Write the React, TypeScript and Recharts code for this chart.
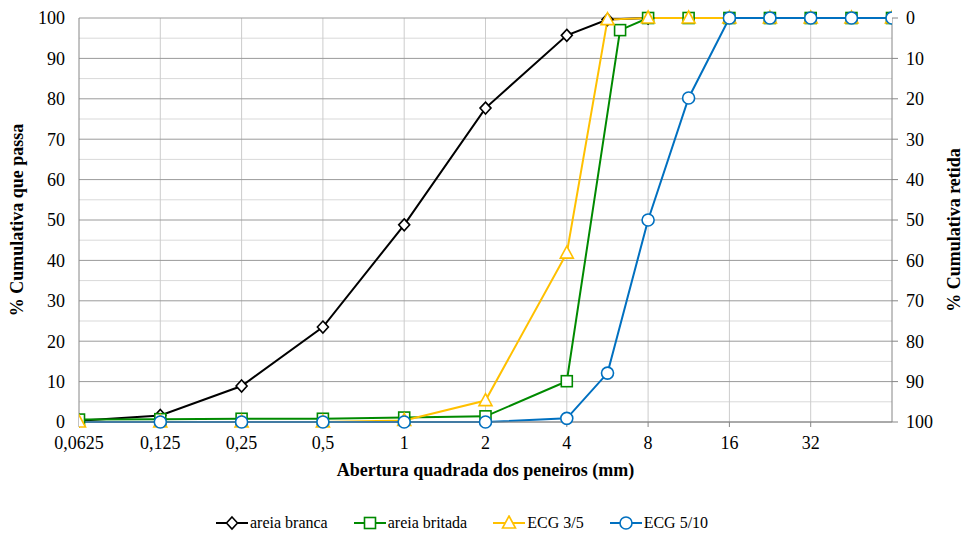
import React from 'react';
import { ComposedChart, Line, XAxis, YAxis, CartesianGrid, Legend } from 'recharts';

// Sieve openings (mm) and cumulative % passing
const xTicks = [0.0625, 0.125, 0.25, 0.5, 1, 2, 4, 8, 16, 32];
const xGridValues = [0.125, 0.25, 0.5, 1, 2, 4, 8, 16, 32];
const yTicks = [0, 10, 20, 30, 40, 50, 60, 70, 80, 90, 100];
const yMinorTicks = [5, 15, 25, 35, 45, 55, 65, 75, 85, 95];

const areiaBrancaX = [0.0625, 0.125, 0.25, 0.5, 1, 2, 4, 5.66, 8];
const areiaBrancaY = [0.3, 1.6, 8.9, 23.5, 48.8, 77.7, 95.7, 99.6, 100];

const areiaBritadaX = [0.0625, 0.125, 0.25, 0.5, 1, 2, 4, 6.3, 8, 11.3, 16, 22.6, 32, 45.3, 64];
const areiaBritadaY = [0.6, 0.7, 0.8, 0.8, 1.1, 1.4, 10.1, 97, 100, 100, 100, 100, 100, 100, 100];

const ecg35X = [0.0625, 0.125, 0.25, 0.5, 1, 2, 4, 5.66, 8, 11.3, 16, 22.6, 32, 45.3, 64];
const ecg35Y = [0, 0, 0, 0, 0.4, 5.3, 41.8, 99.6, 100, 100, 100, 100, 100, 100, 100];

const ecg510X = [0.0625, 0.125, 0.25, 0.5, 1, 2, 4, 5.66, 8, 11.3, 16, 22.6, 32, 45.3, 64];
const ecg510Y = [0, 0, 0, 0, 0, 0, 0.9, 12.1, 50, 80.2, 100, 100, 100, 100, 100];

const seriesNames = ['areia branca', 'areia britada', 'ECG 3/5', 'ECG 5/10'];
const seriesColors = ['#000000', '#008a00', '#FFC000', '#0070C0'];

const toPoints = (xs: number[], ys: number[]) => xs.map((x, i) => ({ x, y: ys[i] }));
// cumulative % retained (right axis) = 100 - % passing
const toRetained = (xs: number[], ys: number[]) => xs.map((x, i) => ({ x, r: 100 - ys[i] }));

const FONT = '"Liberation Serif", "Times New Roman", serif';

type Shape = 'diamond' | 'square' | 'triangle' | 'circle';
const shapes: Shape[] = ['diamond', 'square', 'triangle', 'circle'];

const Marker = ({ shape, cx, cy, color }: { shape: Shape; cx: number; cy: number; color: string }) => {
  const sw = 1.6;
  if (shape === 'diamond') {
    return (
      <polygon
        points={`${cx},${cy - 6} ${cx + 5.5},${cy} ${cx},${cy + 6} ${cx - 5.5},${cy}`}
        fill="#fff"
        stroke={color}
        strokeWidth={sw}
      />
    );
  }
  if (shape === 'square') {
    return <rect x={cx - 5.5} y={cy - 5.5} width={11} height={11} fill="#fff" stroke={color} strokeWidth={sw} />;
  }
  if (shape === 'triangle') {
    return (
      <polygon
        points={`${cx},${cy - 7} ${cx + 6.5},${cy + 5} ${cx - 6.5},${cy + 5}`}
        fill="#fff"
        stroke={color}
        strokeWidth={sw}
      />
    );
  }
  return <circle cx={cx} cy={cy} r={6} fill="#fff" stroke={color} strokeWidth={sw} />;
};

const makeDot = (shape: Shape, color: string, skipFirst = false) => (props: any) => {
  const { cx, cy, index } = props;
  if (cx == null || cy == null || (skipFirst && index === 0)) return <g key={`d-${shape}-${index}`} />;
  return (
    <g key={`d-${shape}-${index}`}>
      <Marker shape={shape} cx={cx} cy={cy} color={color} />
    </g>
  );
};

const LegendContent = () => (
  <div
    style={{
      display: 'flex',
      alignItems: 'center',
      height: 20,
      paddingLeft: 216,
      fontFamily: FONT,
      fontSize: 16,
      color: '#000',
      whiteSpace: 'nowrap',
    }}
  >
    {seriesNames.map((name, i) => (
      <div key={name} style={{ display: 'flex', alignItems: 'center', marginRight: 26 }}>
        <svg width={32} height={16} style={{ display: 'block' }}>
          <line x1={0} y1={8} x2={32} y2={8} stroke={seriesColors[i]} strokeWidth={2} />
          <Marker shape={shapes[i]} cx={16} cy={8} color={seriesColors[i]} />
        </svg>
        <span style={{ marginLeft: 2, lineHeight: '20px' }}>{name}</span>
      </div>
    ))}
  </div>
);

const fmt = (v: number) => String(v).replace('.', ',');

export default function App() {
  const data = [
    toPoints(areiaBrancaX, areiaBrancaY),
    toPoints(areiaBritadaX, areiaBritadaY),
    toPoints(ecg35X, ecg35Y),
    toPoints(ecg510X, ecg510Y),
  ];
  const retained = toRetained(ecg510X, ecg510Y);
  const tickStyle = { fontFamily: FONT, fontSize: 18, fill: '#000' };
  const axisColor = '#868686';
  return (
    <div style={{ position: 'absolute', left: 0, top: 0, width: 963, height: 533, fontFamily: FONT }}>
      <ComposedChart width={963} height={533} margin={{ top: 18, right: 0, bottom: 0, left: 0 }}>
        <CartesianGrid horizontalValues={yMinorTicks} vertical={false} stroke="#d9d9d9" strokeWidth={1} />
        <CartesianGrid verticalValues={xGridValues} horizontal={false} stroke="#cccccc" strokeWidth={1} />
        <CartesianGrid horizontalValues={yTicks} vertical={false} stroke="#9a9a9a" strokeWidth={1} />
        <XAxis
          dataKey="x"
          type="number"
          scale="log"
          domain={[0.0625, 64]}
          allowDataOverflow
          ticks={xTicks}
          interval={0}
          tickFormatter={fmt}
          tick={tickStyle}
          tickSize={5}
          tickMargin={9}
          axisLine={{ stroke: axisColor }}
          tickLine={{ stroke: axisColor }}
          height={91}
          label={{
            content: (p: any) => {
              const vb = p.viewBox || { x: 79, y: 422, width: 813 };
              return (
                <text
                  x={vb.x + vb.width / 2}
                  y={vb.y + 53.5}
                  textAnchor="middle"
                  fontFamily={FONT}
                  fontSize={18}
                  fontWeight="bold"
                  fill="#000"
                >
                  Abertura quadrada dos peneiros (mm)
                </text>
              );
            },
          }}
        />
        <YAxis
          type="number"
          domain={[0, 100]}
          ticks={yTicks}
          interval={0}
          width={79}
          tick={tickStyle}
          tickLine={false}
          tickSize={6}
          tickMargin={8}
          axisLine={{ stroke: axisColor }}
          label={{
            content: () => (
              <text
                x={22.5}
                y={220}
                transform="rotate(-90, 22.5, 220)"
                textAnchor="middle"
                fontFamily={FONT}
                fontSize={18}
                fontWeight="bold"
                fill="#000"
              >
                % Cumulativa que passa
              </text>
            ),
          }}
        />
        <YAxis
          yAxisId="right"
          orientation="right"
          type="number"
          domain={[0, 100]}
          reversed
          ticks={yTicks}
          interval={0}
          width={71}
          tick={tickStyle}
          tickSize={6}
          tickMargin={8}
          axisLine={{ stroke: axisColor }}
          tickLine={{ stroke: axisColor }}
          label={{
            content: () => (
              <text
                x={960}
                y={230}
                transform="rotate(-90, 960, 230)"
                textAnchor="middle"
                fontFamily={FONT}
                fontSize={18}
                fontWeight="bold"
                fill="#000"
              >
                % Cumulativa retida
              </text>
            ),
          }}
        />
        <Legend verticalAlign="bottom" align="left" content={<LegendContent />} />
        <Line
          yAxisId="right"
          data={retained}
          dataKey="r"
          stroke="transparent"
          strokeWidth={0}
          dot={false}
          activeDot={false}
          legendType="none"
          isAnimationActive={false}
        />
        {data.map((d, i) => (
          <Line
            key={seriesNames[i]}
            data={d}
            dataKey="y"
            name={seriesNames[i]}
            type="linear"
            stroke={seriesColors[i]}
            strokeWidth={2}
            dot={makeDot(shapes[i], seriesColors[i], i === 3)}
            activeDot={false}
            isAnimationActive={false}
          />
        ))}
      </ComposedChart>
    </div>
  );
}
